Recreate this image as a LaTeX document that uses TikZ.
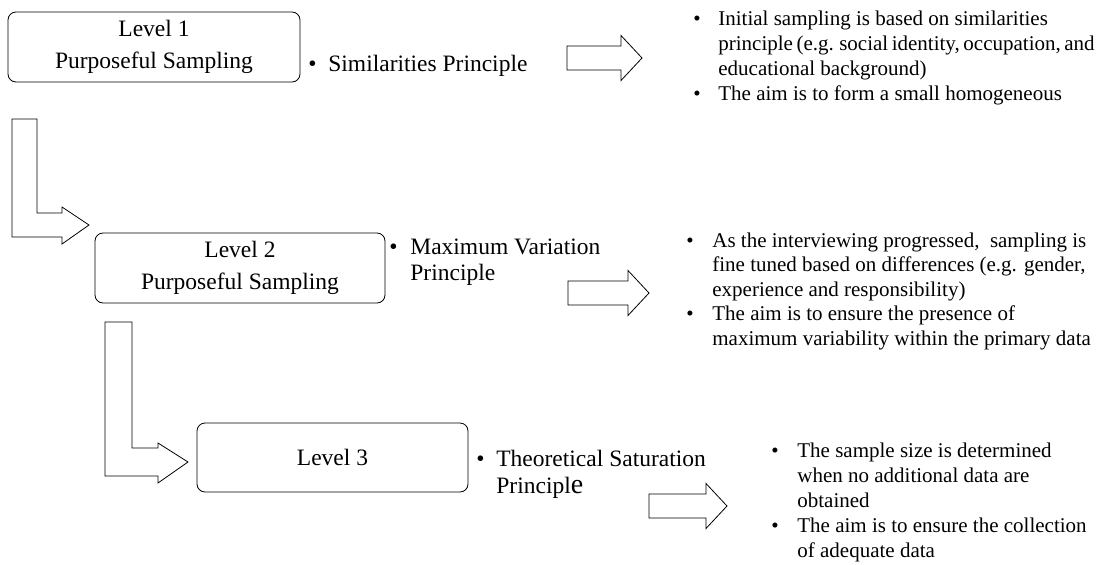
\documentclass[tikz,border=0pt]{standalone}
\usepackage{fontspec}
\setmainfont{Liberation Serif}
\usepackage{tikz}
\usetikzlibrary{positioning}
\tikzset{lvlbox/.style={draw,rounded corners=8pt,align=center,inner sep=0pt,minimum height=70pt,
    font=\fontsize{23.5}{25}\selectfont}}
\tikzset{bullets/.style={align=left,inner sep=0pt,anchor=north west}}
\newcommand{\bul}[1]{\makebox[#1][l]{\textbullet}}
\newcommand{\ind}[1]{\hspace*{#1}}

\begin{document}
\begin{tikzpicture}[x=1pt,y=-1pt,line width=0.8pt,font=\fontsize{21}{25}\selectfont]
\useasboundingbox (0,0) rectangle (1109,565);
% levels
\node[lvlbox,minimum width=292pt] (lvl1) at (154,47) {Level 1\\[7pt]Purposeful Sampling};
\node[lvlbox,minimum width=290pt] (lvl2) at (240,268) {Level 2\\[7pt]Purposeful Sampling};
\node[lvlbox,minimum width=271pt,minimum height=69pt] (lvl3) at (332.5,457.5) {Level 3};
% principles
\node[bullets,font=\fontsize{23.5}{26}\selectfont] (prin1) at (308,54.5) {\bul{20pt}Similarities Principle};
\node[bullets,font=\fontsize{23.5}{26}\selectfont] (prin2) at (389,238.5) {\bul{21pt}Maximum Variation\\\ind{21pt}Principle};
\node[bullets,font=\fontsize{23.5}{27}\selectfont] (prin3) at (476,449.5) {\bul{20pt}Theoretical Saturation\\\ind{20pt}Principl{\fontsize{28}{27}\selectfont e}};
% descriptions
\node[bullets] (desc1) at (693,10.4) {\bul{25pt}Initial sampling is based on similarities\\
  \ind{25pt}{\spaceskip=0.17em\relax principle (e.g. social identity, occupation, and}\\
  \ind{25pt}educational background)\\
  \bul{25pt}The aim is to form a small homogeneous};
\node[bullets,font=\fontsize{21}{24.5}\selectfont] (desc2) at (686,232.4) {\bul{26pt}As the interviewing progressed,\ \ sampling is\\
  \ind{26pt}fine tuned based on differences (e.g. gender,\\
  \ind{26pt}experience and responsibility)\\
  \bul{26pt}The aim is to ensure the presence of\\
  \ind{26pt}maximum variability within the primary data};
\node[bullets] (desc3) at (771,442.4) {\bul{26pt}The sample size is determined\\
  \ind{26pt}when no additional data are\\
  \ind{26pt}obtained\\
  \bul{26pt}The aim is to ensure the collection\\
  \ind{26pt}of adequate data};
% block arrows
\foreach \x/\y/\l in {567/58/75,568/293/81,649/506/78}
  \draw (\x,\y-12) -- (\x+\l-21,\y-12) -- (\x+\l-21,\y-22.5) -- (\x+\l,\y)
    -- (\x+\l-21,\y+22.5) -- (\x+\l-21,\y+12) -- (\x,\y+12) -- cycle;
% bent arrows
\draw (12,119) -- (37,119) -- (37,213) -- (62,213) -- (62,207) -- (89,225)
  -- (62,244) -- (62,237) -- (12,237) -- cycle;
\draw (105,322) -- (132,322) -- (132,448) -- (158,448) -- (158,443) -- (188,462)
  -- (158,483) -- (158,476) -- (105,476) -- cycle;
\end{tikzpicture}
\end{document}
